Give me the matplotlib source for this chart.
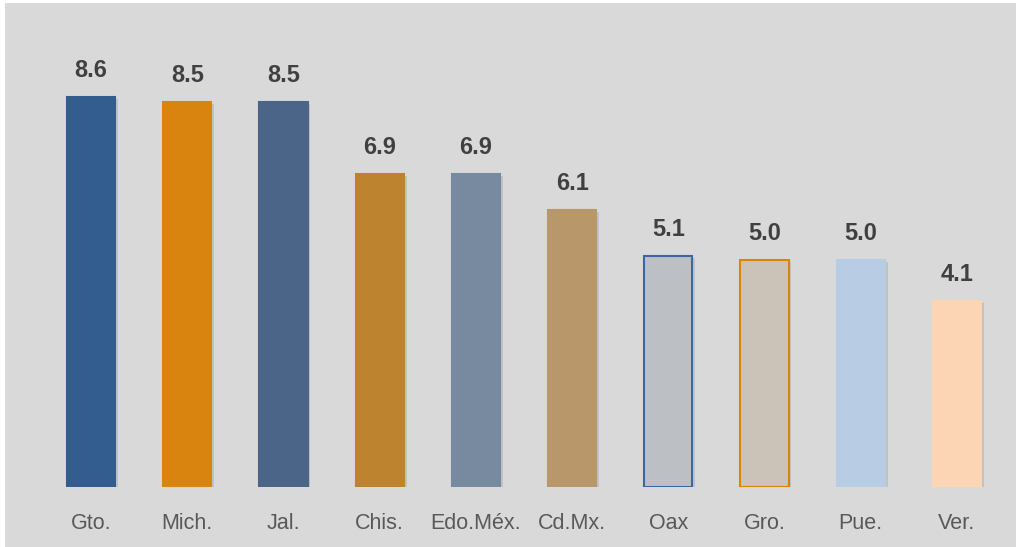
import matplotlib.pyplot as plt
import matplotlib.patheffects as pe
from matplotlib.patches import Rectangle

states = ['Gto.', 'Mich.', 'Jal.', 'Chis.', 'Edo.Méx.', 'Cd.Mx.', 'Oax', 'Gro.', 'Pue.', 'Ver.']
values = [8.6, 8.5, 8.5, 6.9, 6.9, 6.1, 5.1, 5.0, 5.0, 4.1]
fill_colors = ['#335d8e', '#d9840e', '#4a6588', '#be832f', '#778aa0',
               '#b8976a', '#bcc0c5', '#cbc3b8', '#b8cce4', '#fcd5b4']
edge_colors = ['#335d8e', '#d9840e', '#4a6588', '#be832f', '#778aa0',
               '#b8976a', '#3d67a0', '#d9840e', '#b8cce4', '#fcd5b4']

W, H = 1016, 547
fig = plt.figure(figsize=(W / 100, H / 100), dpi=100, facecolor='white')
# gray background with thin white strip at top/left
fig.patches.append(Rectangle((5 / W, 0), 1 - 5 / W, 1 - 3 / H, transform=fig.transFigure,
                             facecolor='#d9d9d9', edgecolor='none', zorder=-10))

ax = fig.add_axes([43 / W, (H - 487) / H, 962 / W, 477 / H])
ax.set_facecolor('none')

x = range(len(states))
shadow = [pe.SimplePatchShadow(offset=(2, -1.5), shadow_rgbFace='#000000', alpha=0.1), pe.Normal()]
bars = ax.bar(x, values, width=0.5, color=fill_colors, edgecolor=edge_colors, linewidth=1.5)
for b in bars:
    b.set_path_effects(shadow)

# faint base line under each bar
for i in x:
    ax.plot([i - 0.32, i + 0.32], [-0.04, -0.04], color='#b0b0b0', lw=1.0, solid_capstyle='butt')

for i, v in enumerate(values):
    ax.text(i, v + 0.33, f'{v:.1f}', ha='center', va='bottom', fontsize=17, fontweight='bold',
            family='Liberation Sans', color='#404040')

ax.set_xlim(-0.5, len(states) - 0.5)
ax.set_ylim(0, 10.52)
ax.set_xticks(list(x))
ax.set_xticklabels(states, fontsize=15.5, family='Liberation Sans', color='#595959')
ax.tick_params(axis='x', length=0, pad=19)
ax.set_yticks([])
for s in ax.spines.values():
    s.set_visible(False)

fig.savefig('out.png', dpi=100, facecolor=fig.get_facecolor())
